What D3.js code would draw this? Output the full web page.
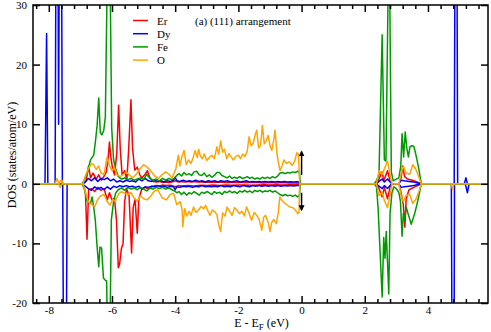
<!DOCTYPE html>
<html>
<head>
<meta charset="utf-8">
<script src="https://cdn.jsdelivr.net/npm/d3@7"></script>
<style>
  body { margin: 0; background: #fff; }
  svg { display: block; }
  text { font-family: "Liberation Serif", "Times New Roman", serif; fill: #000; }
</style>
</head>
<body>
<svg id="chart" width="491" height="332"></svg>
<script>
// ---- data (energy in eV, DOS in states/atom/eV; up = spin up, dn = spin down) ----
const xTicks = [-8, -6, -4, -2, 0, 2, 4];
const yTicks = [-20, -10, 0, 10, 20, 30];
const elements = ["Er", "Dy", "Fe", "O"];
const panelTitle = "(a) (111) arrangement";

const erUp = [[-8.5,0],[-6.92,0],[-6.82,0.4],[-6.74,3.0],[-6.68,1.0],[-6.6,1.8],[-6.5,0.8],[-6.42,1.5],[-6.34,0.6],[-6.26,1.2],[-6.18,2.0],[-6.12,4.5],[-6.08,7.0],[-6.04,4.6],[-5.98,2.5],[-5.92,1.5],[-5.85,5.0],[-5.79,13.2],[-5.74,6.0],[-5.68,1.5],[-5.6,2.2],[-5.53,0.6],[-5.47,6.0],[-5.4,14.1],[-5.35,6.0],[-5.28,2.3],[-5.2,2.8],[-5.12,1.5],[-5.05,1.0],[-4.95,1.6],[-4.88,2.2],[-4.8,1.0],[-4.7,0.4],[-4.6,0.3],[-4.5,0.4],[-4.4,0.2],[-4.3,0.3],[-4.2,0.2],[-4.1,0.3],[-4.0,0.5],[-3.9,0.3],[-3.8,0.4],[-3.7,0.3],[-3.6,0.4],[-3.5,0.3],[-3.4,0.4],[-3.3,0.3],[-3.2,0.35],[-3.1,0.25],[-3.0,0.3],[-2.8,0.25],[-2.6,0.3],[-2.4,0.2],[-2.2,0.25],[-2.0,0.2],[-1.8,0.25],[-1.6,0.2],[-1.4,0.2],[-1.2,0.15],[-1.0,0.2],[-0.8,0.15],[-0.6,0.2],[-0.4,0.15],[-0.2,0.15],[-0.06,0.1],[-0.02,0],[2.37,0],[2.45,0.8],[2.55,2.0],[2.6,0.5],[2.72,2.2],[2.8,0.5],[2.86,0],[3.08,0],[3.15,1.0],[3.2,3.0],[3.26,1.2],[3.35,0.8],[3.5,0.6],[3.65,0.3],[3.79,0],[5.9,0]];
const erDn = [[-8.5,0],[-6.92,0],[-6.84,-1.5],[-6.79,-9.3],[-6.74,-1.0],[-6.65,-0.8],[-6.55,-1.3],[-6.45,-0.6],[-6.35,-1.1],[-6.25,-0.8],[-6.15,-2.7],[-6.08,-1.5],[-6.0,-2.7],[-5.92,-2.4],[-5.86,-6.0],[-5.8,-14.1],[-5.76,-13.5],[-5.7,-10.8],[-5.65,-10.0],[-5.6,-3.0],[-5.54,-0.8],[-5.46,-2.0],[-5.38,-11.6],[-5.33,-4.0],[-5.27,-2.6],[-5.2,-8.3],[-5.15,-2.5],[-5.05,-0.8],[-4.95,-0.6],[-4.85,-0.9],[-4.75,-0.5],[-4.6,-0.3],[-4.5,-0.4],[-4.4,-0.2],[-4.3,-0.3],[-4.2,-0.25],[-4.1,-0.3],[-4.0,-0.5],[-3.9,-0.3],[-3.8,-0.35],[-3.6,-0.3],[-3.4,-0.35],[-3.2,-0.25],[-3.0,-0.3],[-2.8,-0.2],[-2.6,-0.3],[-2.4,-0.2],[-2.2,-0.25],[-2.0,-0.2],[-1.8,-0.2],[-1.6,-0.25],[-1.4,-0.2],[-1.2,-0.15],[-1.0,-0.2],[-0.8,-0.15],[-0.6,-0.2],[-0.4,-0.15],[-0.2,-0.15],[-0.06,-0.1],[-0.02,0],[2.37,0],[2.45,-0.8],[2.55,-2.2],[2.62,-0.6],[2.72,-2.5],[2.8,-0.6],[2.86,0],[3.08,0],[3.15,-1.5],[3.22,-3.5],[3.27,-7.3],[3.31,-2.5],[3.4,-1.0],[3.55,-0.6],[3.79,0],[5.9,0]];

const dyUp = [[-8.5,0],[-8.12,0],[-8.07,25.2],[-8.03,0],[-7.8,0],[-7.74,90],[-7.69,10],[-7.63,90],[-7.57,0],[-6.95,0],[-6.85,0.3],[-6.75,0.9],[-6.65,0.5],[-6.55,1.0],[-6.45,0.4],[-6.35,0.9],[-6.25,0.7],[-6.15,1.0],[-6.05,0.5],[-5.95,0.8],[-5.85,0.3],[-5.75,0.5],[-5.65,0.3],[-5.55,0.6],[-5.45,0.4],[-5.35,0.5],[-5.25,0.3],[-5.15,0.8],[-5.05,0.5],[-4.95,0.9],[-4.85,0.5],[-4.75,0.4],[-4.65,0.6],[-4.55,0.4],[-4.45,0.5],[-4.35,0.3],[-4.25,0.5],[-4.15,0.4],[-4.05,0.6],[-4.0,1.1],[-3.95,0.5],[-3.85,0.4],[-3.75,0.6],[-3.65,0.4],[-3.55,0.5],[-3.45,0.4],[-3.35,0.6],[-3.25,0.4],[-3.15,0.5],[-3.05,0.3],[-2.95,0.5],[-2.85,0.4],[-2.75,0.5],[-2.65,0.3],[-2.55,0.5],[-2.45,0.4],[-2.35,0.5],[-2.25,0.3],[-2.15,0.4],[-2.05,0.5],[-1.95,0.3],[-1.85,0.4],[-1.75,0.5],[-1.65,0.3],[-1.55,0.4],[-1.45,0.3],[-1.35,0.4],[-1.25,0.3],[-1.15,0.4],[-1.05,0.3],[-0.95,0.4],[-0.85,0.3],[-0.75,0.4],[-0.65,0.3],[-0.55,0.4],[-0.45,0.3],[-0.35,0.35],[-0.25,0.3],[-0.15,0.35],[-0.06,0.3],[-0.02,0],[2.37,0],[2.45,0.4],[2.55,0.8],[2.62,0.3],[2.72,0.8],[2.8,0.3],[2.86,0],[3.08,0],[3.15,0.6],[3.25,0.5],[3.4,0.4],[3.55,0.3],[3.7,0.1],[3.79,0],[4.83,0],[4.89,90],[4.94,0],[5.15,0],[5.2,1.0],[5.25,0],[5.9,0]];
const dyDn = [[-8.5,0],[-7.56,0],[-7.49,-80],[-7.42,0],[-6.95,0],[-6.85,-0.4],[-6.75,-0.8],[-6.65,-1.1],[-6.55,-0.5],[-6.45,-0.9],[-6.35,-0.6],[-6.25,-1.0],[-6.15,-0.5],[-6.05,-0.9],[-5.95,-0.4],[-5.85,-0.6],[-5.75,-0.3],[-5.65,-0.5],[-5.55,-0.3],[-5.45,-0.5],[-5.35,-0.4],[-5.25,-0.6],[-5.15,-0.4],[-5.05,-0.9],[-4.95,-0.5],[-4.85,-0.6],[-4.75,-0.4],[-4.65,-0.5],[-4.55,-0.3],[-4.45,-0.5],[-4.35,-0.4],[-4.25,-0.6],[-4.15,-0.4],[-4.05,-0.5],[-4.0,-1.0],[-3.95,-0.5],[-3.85,-0.6],[-3.75,-0.4],[-3.65,-0.5],[-3.55,-0.4],[-3.45,-0.6],[-3.35,-0.4],[-3.25,-0.5],[-3.15,-0.3],[-3.05,-0.5],[-2.95,-0.4],[-2.85,-0.5],[-2.75,-0.4],[-2.65,-0.5],[-2.55,-0.3],[-2.45,-0.5],[-2.35,-0.4],[-2.25,-0.5],[-2.15,-0.3],[-2.05,-0.4],[-1.95,-0.5],[-1.85,-0.3],[-1.75,-0.4],[-1.65,-0.5],[-1.55,-0.3],[-1.45,-0.4],[-1.35,-0.3],[-1.25,-0.4],[-1.15,-0.3],[-1.05,-0.4],[-0.95,-0.3],[-0.85,-0.4],[-0.75,-0.3],[-0.65,-0.4],[-0.55,-0.3],[-0.45,-0.35],[-0.35,-0.3],[-0.25,-0.35],[-0.15,-0.3],[-0.06,-0.3],[-0.02,0],[2.37,0],[2.45,-0.4],[2.55,-0.8],[2.62,-0.3],[2.72,-0.8],[2.8,-0.3],[2.86,0],[3.08,0],[3.15,-0.6],[3.25,-0.5],[3.4,-0.4],[3.55,-0.3],[3.7,-0.1],[3.79,0],[4.74,0],[4.8,-80],[4.84,0],[5.18,0],[5.25,-1.5],[5.3,0],[5.9,0]];

const feUp = [[-8.5,0],[-6.95,0],[-6.88,0.6],[-6.79,1.7],[-6.68,4.0],[-6.58,4.8],[-6.53,6.8],[-6.47,9.8],[-6.42,14.4],[-6.37,8.6],[-6.32,8.2],[-6.26,9.0],[-6.21,11.2],[-6.1,55],[-6.01,9.5],[-5.95,4.0],[-5.88,2.5],[-5.8,1.2],[-5.7,0.8],[-5.6,1.0],[-5.5,0.7],[-5.4,0.9],[-5.3,0.6],[-5.2,0.8],[-5.1,1.0],[-5.0,0.7],[-4.9,1.6],[-4.8,0.9],[-4.7,0.6],[-4.6,0.8],[-4.5,0.5],[-4.4,0.9],[-4.3,0.6],[-4.2,0.9],[-4.1,0.7],[-4.02,1.0],[-3.95,1.4],[-3.88,1.7],[-3.8,1.3],[-3.72,1.9],[-3.64,1.5],[-3.56,1.7],[-3.48,1.4],[-3.4,2.0],[-3.32,2.1],[-3.24,1.5],[-3.16,1.4],[-3.08,1.8],[-3.0,1.2],[-2.92,1.5],[-2.84,1.1],[-2.76,1.4],[-2.68,1.9],[-2.6,1.9],[-2.52,1.4],[-2.44,1.2],[-2.36,1.0],[-2.28,1.3],[-2.2,0.9],[-2.12,1.1],[-2.04,0.9],[-1.96,1.2],[-1.88,0.9],[-1.8,1.0],[-1.72,1.2],[-1.64,0.9],[-1.56,1.1],[-1.48,0.8],[-1.4,1.0],[-1.32,0.8],[-1.24,1.1],[-1.16,0.9],[-1.08,1.1],[-1.0,0.9],[-0.92,1.2],[-0.84,1.0],[-0.76,1.3],[-0.68,1.8],[-0.6,1.9],[-0.52,1.7],[-0.44,1.9],[-0.36,1.8],[-0.28,2.0],[-0.2,1.9],[-0.12,2.1],[-0.07,2.0],[-0.04,0],[2.3,0],[2.37,0.5],[2.45,1.5],[2.55,25],[2.62,4.0],[2.67,3.8],[2.77,45],[2.84,2.0],[2.9,0.5],[3.0,0.8],[3.08,1.0],[3.14,3.0],[3.18,8.4],[3.23,4.5],[3.28,8.7],[3.33,6.0],[3.38,4.5],[3.43,6.2],[3.48,6.4],[3.55,6.3],[3.6,5.3],[3.7,2.8],[3.79,0],[5.9,0]];
const feDn = [[-8.5,0],[-6.95,0],[-6.88,-0.8],[-6.79,-2.8],[-6.68,-3.3],[-6.63,-2.2],[-6.58,-3.9],[-6.53,-6.0],[-6.47,-10.6],[-6.42,-13.9],[-6.38,-10.6],[-6.33,-10.8],[-6.27,-15.8],[-6.21,-16.2],[-6.17,-16.3],[-6.1,-40],[-6.02,-6.0],[-5.95,-3.0],[-5.88,-1.5],[-5.8,-1.0],[-5.7,-0.7],[-5.6,-1.1],[-5.5,-0.6],[-5.4,-0.9],[-5.3,-0.7],[-5.2,-1.0],[-5.1,-0.6],[-5.0,-0.9],[-4.9,-1.2],[-4.8,-0.7],[-4.7,-0.9],[-4.6,-0.6],[-4.5,-0.8],[-4.4,-0.6],[-4.3,-0.9],[-4.2,-0.7],[-4.1,-1.0],[-4.02,-1.2],[-3.95,-1.5],[-3.88,-1.3],[-3.8,-1.8],[-3.72,-1.4],[-3.64,-1.9],[-3.56,-1.5],[-3.48,-1.7],[-3.4,-1.3],[-3.32,-1.6],[-3.24,-1.9],[-3.16,-1.4],[-3.08,-1.6],[-3.0,-1.3],[-2.92,-1.5],[-2.84,-1.8],[-2.76,-1.3],[-2.68,-1.6],[-2.6,-1.4],[-2.52,-1.8],[-2.44,-1.3],[-2.36,-1.5],[-2.28,-1.2],[-2.2,-1.5],[-2.12,-1.3],[-2.04,-1.6],[-1.96,-1.2],[-1.88,-1.4],[-1.8,-1.1],[-1.72,-1.4],[-1.64,-1.2],[-1.56,-1.5],[-1.48,-1.1],[-1.4,-1.3],[-1.32,-1.1],[-1.24,-1.4],[-1.16,-1.2],[-1.08,-1.3],[-1.0,-1.1],[-0.92,-1.4],[-0.84,-1.2],[-0.76,-1.5],[-0.68,-1.8],[-0.6,-2.0],[-0.52,-1.8],[-0.44,-2.0],[-0.36,-1.9],[-0.28,-2.1],[-0.2,-1.9],[-0.12,-2.2],[-0.07,-2.0],[-0.04,0],[2.3,0],[2.37,-0.5],[2.42,-3.9],[2.55,-19],[2.6,-9.0],[2.64,-12.5],[2.68,-8.0],[2.76,-18.5],[2.8,-5.0],[2.86,-1.5],[2.92,-0.5],[3.0,-0.8],[3.08,-1.5],[3.13,-3.0],[3.18,-8.8],[3.22,-5.0],[3.26,-6.2],[3.31,-3.9],[3.37,-5.0],[3.47,-6.8],[3.58,-5.0],[3.68,-2.8],[3.79,0],[5.9,0]];

const oUp = [[-8.5,0],[-7.8,0],[-7.74,0.9],[-7.68,0],[-7.6,0.7],[-7.54,0],[-6.92,0],[-6.85,1.2],[-6.75,2.5],[-6.65,3.4],[-6.58,3.2],[-6.5,2.4],[-6.42,3.0],[-6.35,1.8],[-6.25,1.6],[-6.16,4.4],[-6.08,3.0],[-6.0,2.2],[-5.93,2.8],[-5.84,1.5],[-5.74,1.2],[-5.64,1.6],[-5.54,2.0],[-5.44,1.4],[-5.34,1.0],[-5.22,1.7],[-5.1,2.6],[-5.0,3.2],[-4.89,2.8],[-4.79,2.3],[-4.65,1.3],[-4.53,0.9],[-4.42,1.5],[-4.3,2.0],[-4.2,1.6],[-4.1,1.0],[-3.98,2.5],[-3.9,4.8],[-3.85,3.0],[-3.79,4.5],[-3.72,5.6],[-3.65,3.2],[-3.58,4.0],[-3.5,3.4],[-3.42,4.6],[-3.37,5.6],[-3.3,4.4],[-3.26,5.8],[-3.2,4.6],[-3.14,4.2],[-3.08,5.0],[-3.0,3.9],[-2.92,4.4],[-2.84,4.8],[-2.76,4.2],[-2.68,6.2],[-2.62,5.0],[-2.56,7.2],[-2.5,5.3],[-2.44,5.8],[-2.37,4.2],[-2.3,5.1],[-2.24,4.6],[-2.16,4.0],[-2.08,4.6],[-2.0,4.8],[-1.93,4.2],[-1.86,5.0],[-1.79,4.6],[-1.72,5.5],[-1.66,7.9],[-1.6,6.4],[-1.53,6.8],[-1.47,8.2],[-1.42,9.0],[-1.36,6.0],[-1.3,6.4],[-1.24,9.8],[-1.18,6.7],[-1.12,7.2],[-1.06,8.1],[-0.99,6.2],[-0.94,5.6],[-0.88,7.4],[-0.84,9.0],[-0.78,5.0],[-0.72,3.2],[-0.68,2.2],[-0.62,3.0],[-0.56,4.0],[-0.48,3.4],[-0.4,3.7],[-0.3,3.1],[-0.22,3.8],[-0.15,5.2],[-0.1,5.0],[-0.06,0],[2.37,0],[2.45,2.2],[2.55,1.6],[2.62,2.5],[2.72,3.8],[2.8,1.5],[2.86,0],[3.08,0],[3.15,1.8],[3.22,3.0],[3.3,1.8],[3.42,1.6],[3.52,3.2],[3.62,2.4],[3.72,1.0],[3.79,0],[5.9,0]];
const oDn = [[-8.5,0],[-7.7,0],[-7.64,-0.6],[-7.58,0],[-6.92,0],[-6.85,-1.3],[-6.75,-3.0],[-6.65,-3.4],[-6.55,-3.9],[-6.45,-2.6],[-6.35,-2.0],[-6.25,-1.8],[-6.15,-3.0],[-6.06,-3.6],[-5.98,-2.6],[-5.9,-3.0],[-5.8,-1.8],[-5.7,-1.3],[-5.6,-1.6],[-5.5,-1.8],[-5.4,-1.5],[-5.3,-2.4],[-5.2,-2.9],[-5.1,-2.0],[-5.0,-2.5],[-4.89,-2.7],[-4.79,-2.2],[-4.66,-1.2],[-4.55,-1.0],[-4.42,-2.3],[-4.28,-2.7],[-4.16,-1.8],[-4.05,-1.6],[-3.95,-3.5],[-3.84,-3.0],[-3.78,-4.4],[-3.76,-7.2],[-3.7,-4.2],[-3.63,-5.4],[-3.56,-4.6],[-3.5,-5.3],[-3.42,-3.9],[-3.34,-4.8],[-3.26,-4.4],[-3.18,-3.8],[-3.1,-4.2],[-3.04,-3.6],[-2.96,-4.6],[-2.9,-5.3],[-2.82,-4.4],[-2.74,-4.7],[-2.68,-5.2],[-2.62,-6.9],[-2.56,-8.0],[-2.5,-4.9],[-2.42,-5.4],[-2.36,-3.9],[-2.28,-4.6],[-2.2,-5.3],[-2.12,-4.0],[-2.05,-4.4],[-1.97,-5.0],[-1.89,-4.6],[-1.81,-5.4],[-1.74,-3.9],[-1.66,-5.0],[-1.58,-6.1],[-1.5,-4.8],[-1.42,-5.3],[-1.34,-6.0],[-1.26,-7.8],[-1.2,-5.6],[-1.14,-5.3],[-1.06,-6.4],[-1.0,-8.0],[-0.94,-6.4],[-0.88,-6.0],[-0.8,-6.7],[-0.74,-5.0],[-0.69,-2.2],[-0.62,-2.8],[-0.53,-3.3],[-0.45,-3.6],[-0.37,-3.9],[-0.28,-4.0],[-0.2,-4.4],[-0.12,-5.0],[-0.08,-4.8],[-0.06,0],[2.37,0],[2.45,-2.0],[2.55,-1.4],[2.62,-2.8],[2.72,-4.0],[2.8,-1.8],[2.86,0],[3.08,0],[3.15,-2.0],[3.22,-3.0],[3.3,-2.0],[3.42,-1.8],[3.52,-3.3],[3.62,-2.6],[3.72,-1.2],[3.79,0],[4.74,0],[4.78,-1.0],[4.82,0],[5.9,0]];

// spin arrows at the Fermi level (E, DOS start -> end)
const spinArrows = [[0, 1.5, 5.4], [0, -1.5, -4.4]];

// ---- drawing ----
const svg = d3.select("#chart");
const plot = { left: 33, right: 488, top: 5, bottom: 303 };

const x = d3.scaleLinear().domain([-8.5, 5.9]).range([plot.left, plot.right]);
const y = d3.scaleLinear().domain([-20, 30]).range([plot.bottom, plot.top]);

const colors = { Er: "#ff0000", Dy: "#0000ff", Fe: "#009a00", O: "#ffa500" };
const series = [
  { name: "Er", up: erUp, dn: erDn },
  { name: "Dy", up: dyUp, dn: dyDn },
  { name: "Fe", up: feUp, dn: feDn },
  { name: "O",  up: oUp,  dn: oDn }
];

const defs = svg.append("defs");
defs.append("clipPath").attr("id", "clip")
  .append("rect")
  .attr("x", plot.left).attr("y", plot.top)
  .attr("width", plot.right - plot.left).attr("height", plot.bottom - plot.top);

defs.append("marker")
  .attr("id", "head")
  .attr("viewBox", "0 0 10 10")
  .attr("refX", 8).attr("refY", 5)
  .attr("markerWidth", 4).attr("markerHeight", 5)
  .attr("orient", "auto")
  .append("path").attr("d", "M0,0 L10,5 L0,10 z").attr("fill", "#000");

const line = d3.line().x(d => x(d[0])).y(d => y(d[1]));
const curves = svg.append("g").attr("clip-path", "url(#clip)");

series.forEach(s => {
  [s.up, s.dn].forEach(pts => {
    curves.append("path")
      .attr("d", line(pts))
      .attr("fill", "none")
      .attr("stroke", colors[s.name])
      .attr("stroke-width", 1.5)
      .attr("stroke-linejoin", "round");
  });
});

spinArrows.forEach(a => {
  svg.append("line")
    .attr("x1", x(a[0])).attr("x2", x(a[0]))
    .attr("y1", y(a[1])).attr("y2", y(a[2]))
    .attr("stroke", "#000").attr("stroke-width", 1.5)
    .attr("marker-end", "url(#head)");
});

// axes (ticks point inward on all four sides)
const minorX = d3.range(-8.4, 5.9, 0.4).map(v => +v.toFixed(1)).filter(v => !xTicks.includes(v));
const fmt = d => String(d);

function styleAxis(g) {
  g.select(".domain").remove();
  g.selectAll(".tick line").attr("stroke", "#000").attr("stroke-width", 1.5);
  g.selectAll("text").style("font-size", "11px").attr("fill", "#000");
}

svg.append("g").attr("transform", `translate(0,${plot.bottom})`)
  .call(d3.axisBottom(x).tickValues(minorX).tickSize(-4).tickFormat(""))
  .call(styleAxis);
svg.append("g").attr("transform", `translate(0,${plot.bottom})`)
  .call(d3.axisBottom(x).tickValues(xTicks).tickSize(-7).tickPadding(3).tickFormat(fmt))
  .call(styleAxis);
svg.append("g").attr("transform", `translate(0,${plot.top})`)
  .call(d3.axisTop(x).tickValues(minorX).tickSize(-4).tickFormat(""))
  .call(styleAxis);
svg.append("g").attr("transform", `translate(0,${plot.top})`)
  .call(d3.axisTop(x).tickValues(xTicks).tickSize(-7).tickFormat(""))
  .call(styleAxis);
svg.append("g").attr("transform", `translate(${plot.left},0)`)
  .call(d3.axisLeft(y).tickValues(yTicks).tickSize(-7).tickPadding(6).tickFormat(fmt))
  .call(styleAxis);
svg.append("g").attr("transform", `translate(${plot.right},0)`)
  .call(d3.axisRight(y).tickValues(yTicks).tickSize(-7).tickFormat(""))
  .call(styleAxis);

svg.append("rect")
  .attr("x", plot.left).attr("y", plot.top)
  .attr("width", plot.right - plot.left).attr("height", plot.bottom - plot.top)
  .attr("fill", "none").attr("stroke", "#000").attr("stroke-width", 1.5);

// axis titles
const xl = svg.append("text")
  .attr("x", (plot.left + plot.right) / 2 + 1).attr("y", 327)
  .attr("text-anchor", "middle").style("font-size", "12px");
xl.append("tspan").text("E - E");
xl.append("tspan").attr("dy", 3).style("font-size", "9px").text("F");
xl.append("tspan").attr("dy", -3).text(" (eV)");

svg.append("text")
  .attr("transform", `translate(16,${(plot.top + plot.bottom) / 2 + 1}) rotate(-90)`)
  .attr("text-anchor", "middle").style("font-size", "12px")
  .text("DOS (states/atom/eV)");

// legend + panel title
const legend = svg.append("g");
elements.forEach((name, i) => {
  const ly = 20.5 + i * 13.2;
  legend.append("line")
    .attr("x1", 133).attr("x2", 148).attr("y1", ly).attr("y2", ly)
    .attr("stroke", colors[name]).attr("stroke-width", 1.5);
  legend.append("text")
    .attr("x", 157).attr("y", ly + 4).style("font-size", "11px").text(name);
});
svg.append("text").attr("x", 195).attr("y", 24.5).style("font-size", "11px").text(panelTitle);
</script>
</body>
</html>
